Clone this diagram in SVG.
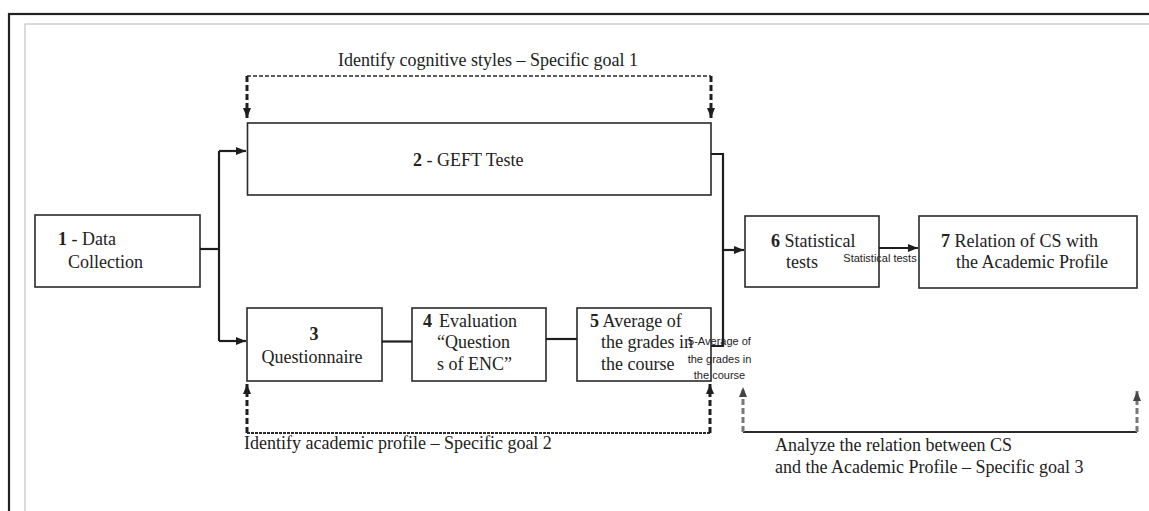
<svg xmlns="http://www.w3.org/2000/svg" width="1149" height="511" viewBox="0 0 1149 511">
<style>
.box{fill:#fff;stroke:#2a2a2a;stroke-width:1.6}
.t{font-family:"Liberation Serif","Times New Roman",serif;font-size:18px;fill:#222}
.s{font-family:"Liberation Sans",Arial,sans-serif;font-size:11px;fill:#222}
.b{font-weight:bold}
.c{fill:none;stroke:#1e1e1e;stroke-width:2.2}
.dv{fill:none;stroke:#1e1e1e;stroke-width:3;stroke-dasharray:6,3}
.dh{fill:none;stroke:#2a2a2a;stroke-width:1.5;stroke-dasharray:4,2}
.gv{fill:none;stroke:#777;stroke-width:3;stroke-dasharray:6,3}
</style>
<defs>
<marker id="ah" markerUnits="userSpaceOnUse" markerWidth="11" markerHeight="9" refX="10" refY="4" orient="auto">
<path d="M0,0 L10,4 L0,8 z" fill="#1e1e1e"/>
</marker>
<marker id="ag" markerUnits="userSpaceOnUse" markerWidth="11" markerHeight="9" refX="10" refY="4" orient="auto">
<path d="M0,0 L10,4 L0,8 z" fill="#444"/>
</marker>
</defs>
<rect x="0" y="0" width="1149" height="511" fill="#fff"/>
<rect x="9" y="14" width="1200" height="600" fill="none" stroke="#222" stroke-width="2.2"/>
<rect x="25" y="24" width="1200" height="600" fill="none" stroke="#c4c4c4" stroke-width="1.2"/>

<g id="label-goal1">
<text class="t" x="338" y="66">Identify cognitive styles – Specific goal 1</text>
</g>
<g id="label-goal2">
<text class="t" x="244" y="449">Identify academic profile – Specific goal 2</text>
</g>
<g id="label-goal3">
<text class="t" x="775" y="451">Analyze the relation between CS</text>
<text class="t" x="775" y="473">and the Academic Profile – Specific goal 3</text>
</g>

<g id="node1">
<rect class="box" x="35" y="215" width="165" height="72"/>
<text class="t" x="58" y="245"><tspan class="b">1</tspan> - Data</text>
<text class="t" x="68" y="268">Collection</text>
</g>
<g id="node2">
<rect class="box" x="247.5" y="123" width="463.5" height="72"/>
<text class="t" x="413" y="166"><tspan class="b">2</tspan> - GEFT Teste</text>
</g>
<g id="node3">
<rect class="box" x="247" y="308" width="135" height="73"/>
<text class="t b" x="314" y="340" text-anchor="middle">3</text>
<text class="t" x="312" y="363" text-anchor="middle">Questionnaire</text>
</g>
<g id="node4">
<rect class="box" x="412" y="308" width="134" height="73"/>
<text class="t" x="423" y="327"><tspan class="b">4</tspan> <tspan x="439">Evaluation</tspan></text>
<text class="t" x="437" y="348">“Question</text>
<text class="t" x="437" y="370">s of ENC”</text>
</g>
<g id="node5">
<rect class="box" x="577" y="308" width="134" height="73"/>
<text class="t" x="590" y="327"><tspan class="b">5</tspan> Average of</text>
<text class="t" x="601" y="348">the grades in</text>
<text class="t" x="601" y="370">the course</text>
</g>
<g id="node6">
<rect class="box" x="745" y="216" width="134" height="71"/>
<text class="t" x="771" y="247"><tspan class="b">6</tspan> Statistical</text>
<text class="t" x="786" y="268">tests</text>
</g>
<g id="node7">
<rect class="box" x="919" y="216" width="218" height="72"/>
<text class="t" x="941" y="247"><tspan class="b">7</tspan> Relation of CS with</text>
<text class="t" x="956" y="268">the Academic Profile</text>
</g>

<g id="connectors">
<path class="c" d="M200,249 H219"/>
<path class="c" d="M219,151 V341"/>
<path class="c" d="M219,151 H246" marker-end="url(#ah)"/>
<path class="c" d="M219,341 H246" marker-end="url(#ah)"/>
<path class="c" d="M382,341.5 H412"/>
<path class="c" d="M546,339 H577"/>
<path class="c" d="M711,154 H723 V346 H711"/>
<path class="c" d="M723,250 H744" marker-end="url(#ah)"/>
<path class="c" d="M879,248 H918" marker-end="url(#ah)"/>
<path class="dh" d="M247,76 H711"/>
<path class="dv" d="M247,76 V118" marker-end="url(#ah)"/>
<path class="dv" d="M711,76 V118" marker-end="url(#ah)"/>
<path class="dh" d="M247,433 H710" style="stroke-width:2;stroke-dasharray:3,1"/>
<path class="dv" d="M247,433 V384" marker-end="url(#ah)"/>
<path class="dv" d="M710,433 V384" marker-end="url(#ah)"/>
<path class="c" d="M743,432 H1137" style="stroke:#2a2a2a"/>
<path class="gv" d="M743,432 V387" marker-end="url(#ag)"/>
<path class="gv" d="M1137,432 V391" marker-end="url(#ag)"/>
<text class="s" x="880" y="262" text-anchor="middle">Statistical tests</text>
<text class="s" x="719.5" y="345" text-anchor="middle">5-Average of</text>
<text class="s" x="719.5" y="363" text-anchor="middle">the grades in</text>
<text class="s" x="719.5" y="379" text-anchor="middle">the course</text>
</g>
</svg>
